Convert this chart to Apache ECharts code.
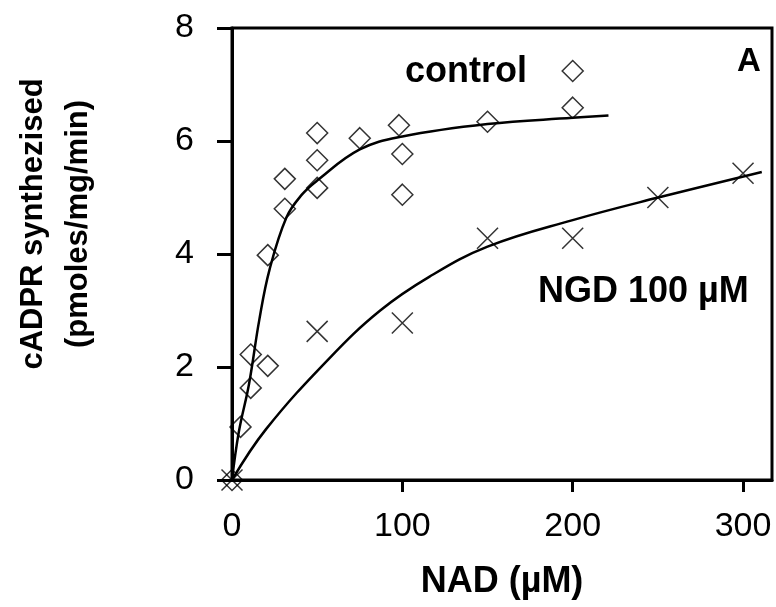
<!DOCTYPE html>
<html>
<head>
<meta charset="utf-8">
<script src="https://cdn.jsdelivr.net/npm/echarts@6/dist/echarts.min.js"></script>
<style>
  html, body { margin: 0; padding: 0; background: #fff; }
  #chart { width: 776px; height: 607px; }
</style>
</head>
<body>
<div id="chart"></div>
<script>
// control: NAD (uM) vs cADPR synthesised
const controlX = [0, 5, 11, 11, 21, 21, 31, 31, 50, 50, 50, 75, 98, 100, 100, 150, 200, 200];
const controlY = [0, 0.94, 1.63, 2.22, 2.02, 3.98, 4.8, 5.33, 5.17, 5.66, 6.14, 6.05, 6.28, 5.77, 5.05, 6.34, 6.59, 7.24];

// NGD 100 uM
const ngdX = [0, 50, 100, 150, 200, 250, 300];
const ngdY = [0, 2.63, 2.78, 4.28, 4.28, 5.0, 5.43];

// fitted curves
const controlFitX = [0, 4, 10, 16, 22, 32, 41, 50, 75, 100, 150, 200, 221];
const controlFitY = [0, 0.85, 1.7, 2.83, 3.72, 4.65, 5.05, 5.3, 5.85, 6.08, 6.3, 6.41, 6.45];
const ngdFitX = [0, 20, 57, 87, 116, 150, 200, 249, 311];
const ngdFitY = [0, 0.9, 2.15, 3.0, 3.6, 4.13, 4.6, 4.99, 5.45];

const xTicks = [100, 200, 300];
const xLabels = [0, 100, 200, 300];

const font = "'Liberation Sans', Arial, sans-serif";
const pair = (xs, ys) => xs.map((x, i) => [x, ys[i]]);

const chart = echarts.init(document.getElementById("chart"));

chart.setOption({
  animation: false,
  backgroundColor: "#fff",
  grid: {
    left: 232, right: 4, top: 28, bottom: 127,
    show: true, borderColor: "#000", borderWidth: 3,
    outerBoundsMode: "none"
  },
  xAxis: {
    type: "value", min: 0, max: 317, interval: 100,
    name: "NAD (µM)", nameLocation: "middle", nameGap: 84,
    nameTextStyle: { fontFamily: font, fontWeight: "bold", fontSize: 36, color: "#000" },
    axisLine: { lineStyle: { color: "#000", width: 3 } },
    axisTick: { length: 12, lineStyle: { color: "#000", width: 3 }, customValues: xTicks },
    axisLabel: { fontFamily: font, fontSize: 34, color: "#000", margin: 30, customValues: xLabels },
    splitLine: { show: false }
  },
  yAxis: {
    type: "value", min: 0, max: 8, interval: 2,
    axisLine: { show: true, lineStyle: { color: "#000", width: 3 } },
    axisTick: { show: true, length: 15, lineStyle: { color: "#000", width: 3 } },
    axisLabel: { fontFamily: font, fontSize: 34, color: "#000", margin: 38 },
    splitLine: { show: false }
  },
  graphic: [
    {
      type: "text", x: 56, y: 224, rotation: Math.PI / 2,
      style: {
        text: "cADPR synthezised\n(pmoles/mg/min)",
        font: "bold 31px " + font, fill: "#000",
        align: "center", verticalAlign: "middle", lineHeight: 45
      }
    },
    { type: "text", x: 405, y: 72, style: { text: "control", font: "bold 36px " + font, fill: "#000", verticalAlign: "middle" } },
    { type: "text", x: 538, y: 292, style: { text: "NGD 100 µM", font: "bold 36px " + font, fill: "#000", verticalAlign: "middle" } },
    { type: "text", x: 737, y: 62, style: { text: "A", font: "bold 33px " + font, fill: "#000", verticalAlign: "middle" } }
  ],
  series: [
    {
      type: "line", data: pair(controlFitX, controlFitY),
      smooth: 0.4, showSymbol: false,
      lineStyle: { color: "#000", width: 2.5 }
    },
    {
      type: "line", data: pair(ngdFitX, ngdFitY),
      smooth: 0.4, showSymbol: false,
      lineStyle: { color: "#000", width: 2.5 }
    },
    {
      type: "scatter", data: pair(controlX, controlY), clip: false,
      symbol: "diamond", symbolSize: 21,
      itemStyle: { color: "rgba(0,0,0,0)", borderColor: "#000", borderWidth: 1.5 }
    },
    {
      type: "scatter", data: pair(ngdX, ngdY), clip: false,
      symbol: "path://M0,0L10,10M10,0L0,10", symbolSize: 21,
      itemStyle: { color: "rgba(0,0,0,0)", borderColor: "#000", borderWidth: 1.5 }
    }
  ]
});
</script>
</body>
</html>
